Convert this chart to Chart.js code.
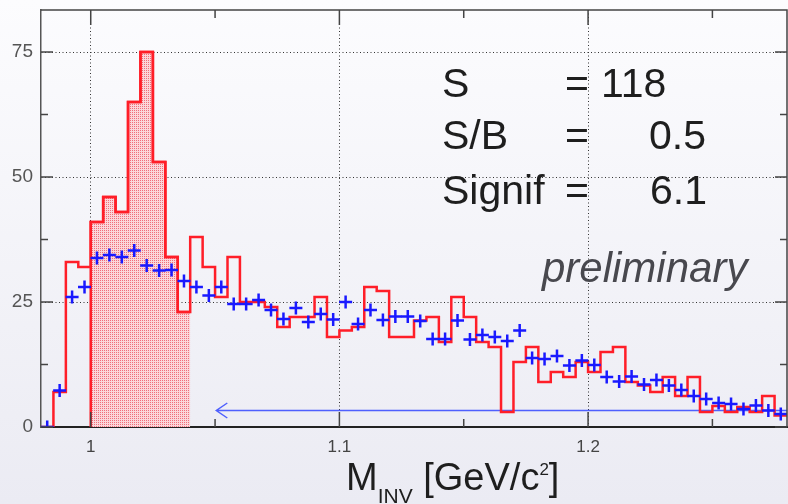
<!DOCTYPE html>
<html>
<head>
<meta charset="utf-8">
<script src="https://cdn.jsdelivr.net/npm/chart.js@4.4.0/dist/chart.umd.min.js"></script>
<style>
html,body{margin:0;padding:0;}
body{width:788px;height:504px;overflow:hidden;position:relative;
  background:linear-gradient(#fcfcfe,#ebebf3);font-family:"Liberation Sans",Arial,sans-serif;}
#wrap{position:absolute;left:0;top:0;width:796px;height:504px;}
.t{position:absolute;white-space:nowrap;line-height:1;}
.st{font-size:41px;color:#1e1e1e;}
#prelim{font-size:42px;font-style:italic;color:#48484e;left:542px;top:247px;}
#xtitle{font-size:38px;color:#1e1e1e;left:346px;top:458px;}
#xtitle .sub{font-size:21px;position:relative;top:13px;}
#xtitle .sup{font-size:17px;position:relative;top:-15px;}
</style>
</head>
<body>
<div id="wrap"><canvas id="histChart" width="796" height="504"></canvas></div>

<div class="t st" style="left:442px;top:63px">S</div>
<div class="t st" style="left:565px;top:63px">=</div>
<div class="t st" style="left:601px;top:63px">118</div>
<div class="t st" style="left:442px;top:115px">S/B</div>
<div class="t st" style="left:565px;top:115px">=</div>
<div class="t st" style="left:649px;top:115px">0.5</div>
<div class="t st" style="left:442px;top:170px">Signif</div>
<div class="t st" style="left:565px;top:170px">=</div>
<div class="t st" style="left:650px;top:170px">6.1</div>
<div class="t" id="prelim">preliminary</div>
<div class="t" id="xtitle">M<span class="sub">INV</span> [GeV/c<span class="sup">2</span>]</div>

<script>
// histogram binning
var binLow = 0.98;
var binWidth = 0.005;

// signal candidates (red histogram)
var sigCounts = [0, 7, 33, 32, 41, 46, 43, 65, 75, 53,
  34, 23, 38, 32, 26, 34, 25, 25, 24, 20,
  22, 22, 26, 18, 19.3, 20, 28, 27.2, 18, 18,
  21.3, 22, 17, 26, 22, 17, 16, 3, 13, 16,
  9, 11, 10, 13, 11, 15, 16, 9, 8.3, 7,
  10, 6.2, 10, 3, 4.2, 3, 4, 3, 6.2, 2.3];

// background estimate (blue crosses)
var bkgCounts = [0, 7.3, 26, 28, 33.8, 34.4, 34, 35.3, 32.3, 31.3,
  31.4, 29.2, 28, 26.3, 28, 24.6, 24.6, 25.4, 23.4, 21.6,
  23.8, 21, 22.6, 21.5, 25, 20.6, 23.4, 21.4, 22.1, 22.1,
  21.2, 17.6, 17.6, 21.3, 17.5, 18.4, 18, 17.2, 19.3, 13.8,
  13.6, 14.2, 12.3, 13.3, 12.4, 10, 9.1, 10.1, 8.5, 9.4,
  8.3, 7.4, 6.2, 5.6, 4.8, 4.6, 3.6, 4.3, 3.3, 2.6];

var windowRange = [1.0, 1.04];
var xTicks = [1, 1.1, 1.2];
var xMinorTicks = [1.05, 1.15, 1.25];
var yTicks = [0, 25, 50, 75];
var yMinorTicks = [12.5, 37.5, 62.5];
var arrowStart = 1.0505;
var arrowLevel = 3.3;

var histPts = sigCounts.map(function (v, i) { return {x: binLow + i * binWidth, y: v}; });
histPts.push({x: binLow + sigCounts.length * binWidth, y: sigCounts[sigCounts.length - 1]});

var windowPts = [{x: windowRange[0], y: 0}];
sigCounts.forEach(function (v, i) {
  var e = binLow + i * binWidth;
  if (e >= windowRange[0] - 1e-9 && e < windowRange[1] - 1e-9) windowPts.push({x: e, y: v});
});
windowPts.push({x: windowRange[1], y: windowPts[windowPts.length - 1].y});

var bkgPts = bkgCounts.map(function (v, i) { return {x: binLow + (i + 0.5) * binWidth, y: v}; });

// stippled pink fill like the original
var pat = document.createElement('canvas');
pat.width = 2; pat.height = 2;
var pc = pat.getContext('2d');
pc.fillStyle = 'rgb(251,214,218)'; pc.fillRect(0, 0, 2, 2);
pc.fillStyle = 'rgb(240,110,122)'; pc.fillRect(0, 0, 1, 1);
var fillPattern = pc.createPattern(pat, 'repeat');

var frame = {
  id: 'frame',
  beforeDatasetsDraw: function (chart) {
    var ctx = chart.ctx, x = chart.scales.x, y = chart.scales.y;
    var x0 = x.getPixelForValue(arrowStart), y0 = y.getPixelForValue(arrowLevel);
    ctx.save();
    ctx.strokeStyle = 'rgba(50,70,255,0.85)';
    ctx.lineWidth = 1.5;
    ctx.beginPath();
    ctx.moveTo(x0, y0); ctx.lineTo(chart.chartArea.right, y0);
    ctx.moveTo(x0 + 11, y0 - 7.5); ctx.lineTo(x0, y0); ctx.lineTo(x0 + 11, y0 + 7.5);
    ctx.stroke();
    ctx.restore();
  },
  afterDraw: function (chart) {
    var ctx = chart.ctx, a = chart.chartArea, x = chart.scales.x, y = chart.scales.y;
    ctx.save();
    ctx.strokeStyle = '#444';
    ctx.lineWidth = 1.5;
    ctx.beginPath();
    ctx.moveTo(a.left, a.top); ctx.lineTo(a.right, a.top); ctx.lineTo(a.right, a.bottom);
    function xt(v, len) {
      var p = x.getPixelForValue(v);
      ctx.moveTo(p, a.bottom); ctx.lineTo(p, a.bottom - len);
      ctx.moveTo(p, a.top); ctx.lineTo(p, a.top + len);
    }
    function yt(v, len) {
      var p = y.getPixelForValue(v);
      ctx.moveTo(a.left, p); ctx.lineTo(a.left + len, p);
      ctx.moveTo(a.right, p); ctx.lineTo(a.right - len, p);
    }
    xTicks.forEach(function (v) { xt(v, 15); });
    xMinorTicks.forEach(function (v) { xt(v, 8); });
    yTicks.forEach(function (v) { yt(v, 12); });
    yMinorTicks.forEach(function (v) { yt(v, 7); });
    ctx.stroke();
    ctx.restore();
  }
};

new Chart(document.getElementById('histChart'), {
  type: 'line',
  data: {
    datasets: [
      {
        data: bkgPts, showLine: false,
        pointStyle: 'cross', pointRadius: 6.5, pointBorderWidth: 2.5,
        pointBorderColor: 'rgb(25,25,255)', pointBackgroundColor: 'rgb(25,25,255)'
      },
      {
        data: histPts, stepped: true, fill: false,
        borderColor: 'rgb(255,30,40)', borderWidth: 2.5, pointRadius: 0
      },
      {
        data: windowPts, stepped: true, fill: 'origin',
        backgroundColor: fillPattern,
        borderColor: 'rgb(255,30,40)', borderWidth: 2.5, pointRadius: 0
      }
    ]
  },
  options: {
    responsive: false,
    animation: false,
    devicePixelRatio: 1,
    layout: {padding: {top: 10, right: 2, left: 0, bottom: 0}},
    plugins: {legend: {display: false}, tooltip: {enabled: false}},
    scales: {
      x: {
        type: 'linear', min: 0.98, max: 1.28,
        afterBuildTicks: function (s) { s.ticks = xTicks.map(function (v) { return {value: v}; }); },
        afterFit: function (s) { s.height = 77; s.paddingLeft = 0; s.paddingRight = 0; },
        grid: {drawTicks: false, color: '#333', lineWidth: 1},
        border: {display: true, color: '#222', width: 2, dash: [1, 2.5]},
        ticks: {padding: 10, color: '#444', font: {family: 'Liberation Sans', size: 17},
          callback: function (v) { return String(v); }}
      },
      y: {
        type: 'linear', min: 0, max: 83.4,
        afterBuildTicks: function (s) { s.ticks = yTicks.map(function (v) { return {value: v}; }); },
        afterFit: function (s) { s.width = 41; s.paddingTop = 0; s.paddingBottom = 0; },
        grid: {drawTicks: false, color: '#333', lineWidth: 1},
        border: {display: true, color: '#555', width: 1.5, dash: [1, 2.5]},
        ticks: {padding: 8, color: '#555', font: {family: 'Liberation Sans', size: 19}}
      }
    }
  },
  plugins: [frame]
});
</script>
</body>
</html>
